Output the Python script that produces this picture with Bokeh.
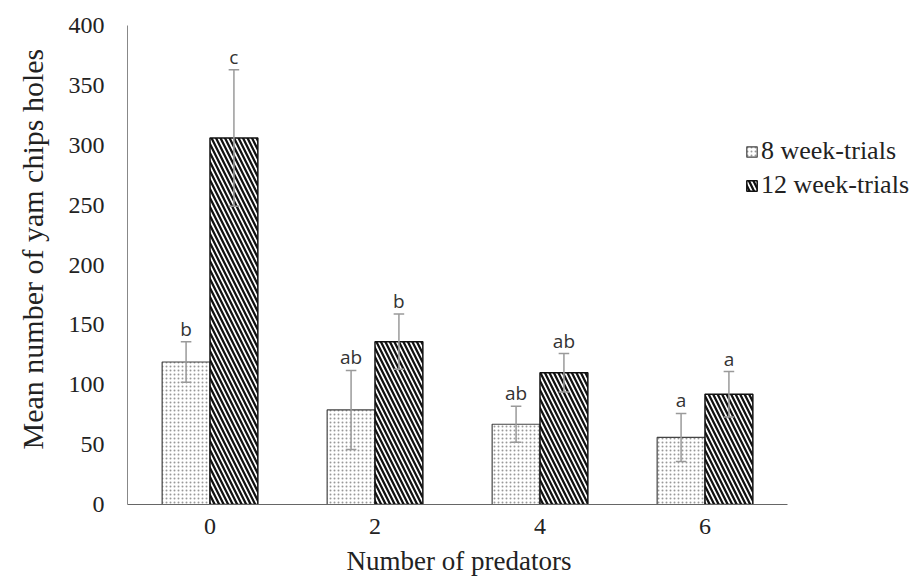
from bokeh.plotting import figure
from bokeh.models import ColumnDataSource, Range1d, Legend, LegendItem, Title
from bokeh.core.properties import value
from bokeh.embed import file_html
from bokeh.resources import INLINE

categories = ["0", "2", "4", "6"]
mean_8wk = [119, 79, 67, 56]
err_8wk = [17, 33, 15, 20]
mean_12wk = [306, 136, 110, 92]
err_12wk = [57, 23, 16, 19]
letters_8wk = ["b", "ab", "ab", "a"]
letters_12wk = ["c", "b", "ab", "a"]
y_ticks = [0, 50, 100, 150, 200, 250, 300, 350, 400]

bw = 0.29
off = bw / 2
cap = 0.032
pos = list(range(len(categories)))

src = ColumnDataSource(dict(
    x8=[i - off for i in pos], x12=[i + off for i in pos],
    m8=mean_8wk, hi8=[m + e for m, e in zip(mean_8wk, err_8wk)], lo8=[m - e for m, e in zip(mean_8wk, err_8wk)],
    m12=mean_12wk, hi12=[m + e for m, e in zip(mean_12wk, err_12wk)], lo12=[m - e for m, e in zip(mean_12wk, err_12wk)],
    l8=letters_8wk, l12=letters_12wk,
))
for xc in ("x8", "x12"):
    src.data[xc + "_c0"] = [v - cap for v in src.data[xc]]
    src.data[xc + "_c1"] = [v + cap for v in src.data[xc]]

W, H = 912, 582
left, top, bottom_px, right_border = 127, 25, 505, 0
px_per_cat = 165.0
x_end = (len(categories) - 0.5) + (W - right_border - (left + px_per_cat * len(categories))) / px_per_cat

p = figure(x_range=Range1d(-0.5, x_end), y_range=Range1d(0, 400), width=W, height=H,
           output_backend="svg", toolbar_location=None,
           min_border_left=left, min_border_right=right_border, min_border_top=top,
           min_border_bottom=H - bottom_px)
p.outline_line_color = None
p.grid.grid_line_color = None

r8 = p.vbar(x="x8", top="m8", width=bw, source=src,
            fill_color="white", line_color="#444444", line_width=1.2,
            hatch_pattern="dot", hatch_color="#999999", hatch_scale=4, hatch_weight=1.0)
r12 = p.vbar(x="x12", top="m12", width=bw, source=src,
             fill_color="white", line_color="#111111", line_width=1.5,
             hatch_pattern="\\", hatch_color="#111111", hatch_scale=9, hatch_weight=2.3)

for xc, hi, lo in [("x8", "hi8", "lo8"), ("x12", "hi12", "lo12")]:
    p.segment(x0=xc, x1=xc, y0=lo, y1=hi, source=src, line_color="#9a9a9a", line_width=1.5)
    for yy in (hi, lo):
        p.segment(x0=xc + "_c0", x1=xc + "_c1", y0=yy, y1=yy, source=src,
                  line_color="#9a9a9a", line_width=1.5)

for xc, yc, tc in [("x8", "hi8", "l8"), ("x12", "hi12", "l12")]:
    p.text(x=xc, y=yc, text=tc, source=src, y_offset=0,
           text_align="center", text_baseline="bottom", text_font=value("Open Sans"),
           text_font_size="19px", text_color="#333333")

font = "Liberation Serif"
p.yaxis.ticker = y_ticks
p.xaxis.ticker = pos
p.xaxis.major_label_overrides = {i: c for i, c in zip(pos, categories)}
p.xaxis.bounds = (-0.5, len(categories) - 0.5)
for ax in (p.xaxis, p.yaxis):
    ax.major_tick_line_color = None
    ax.minor_tick_line_color = None
    ax.major_label_text_font = font
    ax.major_label_text_font_size = "24px"
    ax.major_label_text_color = "#222222"
p.xaxis.axis_line_color = "#666666"
p.yaxis.axis_line_color = "#888888"
p.xaxis.major_label_standoff = 8
p.yaxis.major_label_standoff = 17

# axis titles (centred on the bar area, as in the reference)
xt = Title(text="Number of predators", align="left", offset=458 - left - 112, standoff=14,
           text_font=font, text_font_size="27px", text_font_style="normal", text_color="#222222")
p.add_layout(xt, "below")
yt = Title(text="Mean number of yam chips holes", align="left", offset=bottom_px - 450, standoff=30,
           vertical_align="top",
           text_font=font, text_font_size="30px", text_font_style="normal", text_color="#222222")
p.add_layout(yt, "left")

legend = Legend(items=[LegendItem(label="8 week-trials", renderers=[r8]),
                       LegendItem(label="12 week-trials", renderers=[r12])],
                location=(618, 304), orientation="vertical",
                label_text_font=font, label_text_font_size="26px", label_text_color="#222222",
                glyph_width=13, glyph_height=13, spacing=4, label_standoff=3,
                background_fill_alpha=0, border_line_color=None, padding=0, margin=0)
p.add_layout(legend)

open("out.html", "w").write(file_html(p, INLINE))
